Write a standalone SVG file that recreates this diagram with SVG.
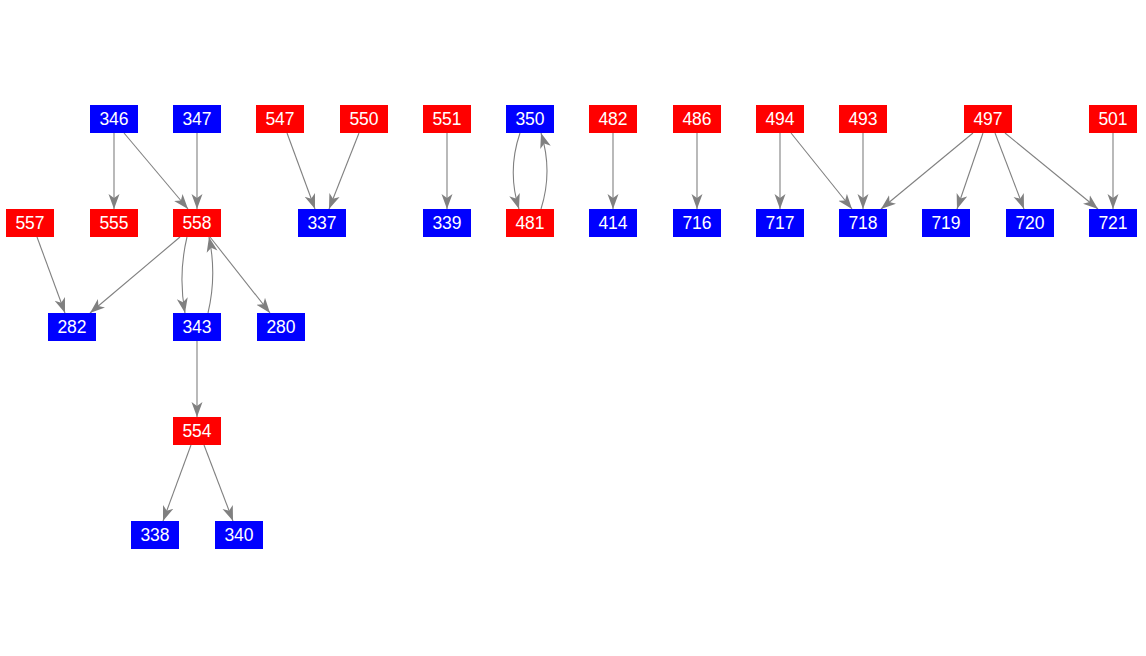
<svg xmlns="http://www.w3.org/2000/svg" width="1146" height="656" viewBox="0 0 1146 656">
<defs>
<style>
.r{fill:#ff0000}
.b{fill:#0000ff}
.n text{font-family:"Liberation Sans",Arial,sans-serif;font-size:17.5px;fill:#ffffff;text-anchor:middle;dominant-baseline:central}
.e path{fill:none;stroke:#808080;stroke-width:1.1;marker-end:url(#ah)}
</style>
<marker id="ah" markerUnits="userSpaceOnUse" markerWidth="16" markerHeight="12" refX="15" refY="6" orient="auto" viewBox="0 0 16 12">
<path d="M0,0.5 L15,6 L0,11.5 L4,6 z" fill="#808080"/>
</marker>
</defs>
<rect width="1146" height="656" fill="#ffffff"/>
<g class="e" id="edges">
<path d="M114,133 L114,209"/>
<path d="M124,133 L188,209"/>
<path d="M197,133 L197,209"/>
<path d="M287,133 L315,209"/>
<path d="M359,133 L329,209"/>
<path d="M447,133 L447,209"/>
<path d="M520,133 Q507,171 519,209"/>
<path d="M541,209 Q553,171 541,133"/>
<path d="M613,133 L613,209"/>
<path d="M697,133 L697,209"/>
<path d="M780,133 L780,209"/>
<path d="M791,133 L852,209"/>
<path d="M863,133 L863,209"/>
<path d="M973,133 L881,209"/>
<path d="M983,133 L957,209"/>
<path d="M995,133 L1024,209"/>
<path d="M1005,133 L1098,209"/>
<path d="M1113,133 L1113,209"/>
<path d="M37,237 L65,313"/>
<path d="M180,237 L90,313"/>
<path d="M187,237 Q178,275 185,313"/>
<path d="M208,313 Q217,275 209,237"/>
<path d="M210,237 L270,313"/>
<path d="M197,341 L197,417"/>
<path d="M191,445 L163,521"/>
<path d="M204,445 L233,521"/>
</g>
<g class="n" id="n346"><rect class="b" x="90" y="105" width="48" height="28"/><text x="114" y="119">346</text></g>
<g class="n" id="n347"><rect class="b" x="173" y="105" width="48" height="28"/><text x="197" y="119">347</text></g>
<g class="n" id="n547"><rect class="r" x="256" y="105" width="48" height="28"/><text x="280" y="119">547</text></g>
<g class="n" id="n550"><rect class="r" x="340" y="105" width="48" height="28"/><text x="364" y="119">550</text></g>
<g class="n" id="n551"><rect class="r" x="423" y="105" width="48" height="28"/><text x="447" y="119">551</text></g>
<g class="n" id="n350"><rect class="b" x="506" y="105" width="48" height="28"/><text x="530" y="119">350</text></g>
<g class="n" id="n482"><rect class="r" x="589" y="105" width="48" height="28"/><text x="613" y="119">482</text></g>
<g class="n" id="n486"><rect class="r" x="673" y="105" width="48" height="28"/><text x="697" y="119">486</text></g>
<g class="n" id="n494"><rect class="r" x="756" y="105" width="48" height="28"/><text x="780" y="119">494</text></g>
<g class="n" id="n493"><rect class="r" x="839" y="105" width="48" height="28"/><text x="863" y="119">493</text></g>
<g class="n" id="n497"><rect class="r" x="964" y="105" width="48" height="28"/><text x="988" y="119">497</text></g>
<g class="n" id="n501"><rect class="r" x="1089" y="105" width="48" height="28"/><text x="1113" y="119">501</text></g>
<g class="n" id="n557"><rect class="r" x="6" y="209" width="48" height="28"/><text x="30" y="223">557</text></g>
<g class="n" id="n555"><rect class="r" x="90" y="209" width="48" height="28"/><text x="114" y="223">555</text></g>
<g class="n" id="n558"><rect class="r" x="173" y="209" width="48" height="28"/><text x="197" y="223">558</text></g>
<g class="n" id="n337"><rect class="b" x="298" y="209" width="48" height="28"/><text x="322" y="223">337</text></g>
<g class="n" id="n339"><rect class="b" x="423" y="209" width="48" height="28"/><text x="447" y="223">339</text></g>
<g class="n" id="n481"><rect class="r" x="506" y="209" width="48" height="28"/><text x="530" y="223">481</text></g>
<g class="n" id="n414"><rect class="b" x="589" y="209" width="48" height="28"/><text x="613" y="223">414</text></g>
<g class="n" id="n716"><rect class="b" x="673" y="209" width="48" height="28"/><text x="697" y="223">716</text></g>
<g class="n" id="n717"><rect class="b" x="756" y="209" width="48" height="28"/><text x="780" y="223">717</text></g>
<g class="n" id="n718"><rect class="b" x="839" y="209" width="48" height="28"/><text x="863" y="223">718</text></g>
<g class="n" id="n719"><rect class="b" x="922" y="209" width="48" height="28"/><text x="946" y="223">719</text></g>
<g class="n" id="n720"><rect class="b" x="1006" y="209" width="48" height="28"/><text x="1030" y="223">720</text></g>
<g class="n" id="n721"><rect class="b" x="1089" y="209" width="48" height="28"/><text x="1113" y="223">721</text></g>
<g class="n" id="n282"><rect class="b" x="48" y="313" width="48" height="28"/><text x="72" y="327">282</text></g>
<g class="n" id="n343"><rect class="b" x="173" y="313" width="48" height="28"/><text x="197" y="327">343</text></g>
<g class="n" id="n280"><rect class="b" x="257" y="313" width="48" height="28"/><text x="281" y="327">280</text></g>
<g class="n" id="n554"><rect class="r" x="173" y="417" width="48" height="28"/><text x="197" y="431">554</text></g>
<g class="n" id="n338"><rect class="b" x="131" y="521" width="48" height="28"/><text x="155" y="535">338</text></g>
<g class="n" id="n340"><rect class="b" x="215" y="521" width="48" height="28"/><text x="239" y="535">340</text></g>
</svg>
